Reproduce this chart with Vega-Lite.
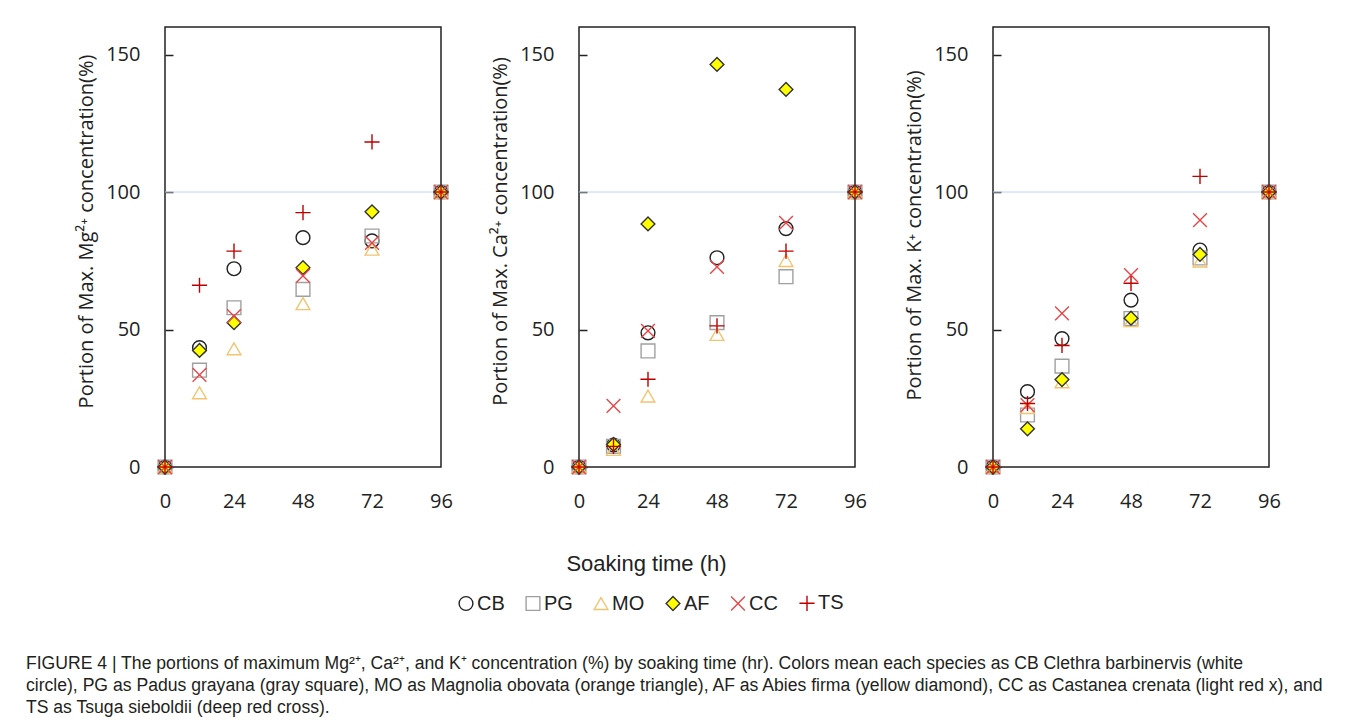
{
  "$schema": "https://vega.github.io/schema/vega-lite/v6.json",
  "background": "white",
  "autosize": {"type": "pad"},
  "padding": {"left": 25, "top": 26, "right": 10, "bottom": 10},
  "datasets": {
    "pts": [
      {"ion": "Mg", "t": 0, "sp": "CB", "v": 0}, {"ion": "Mg", "t": 0, "sp": "PG", "v": 0}, {"ion": "Mg", "t": 0, "sp": "MO", "v": 0}, {"ion": "Mg", "t": 0, "sp": "AF", "v": 0}, {"ion": "Mg", "t": 0, "sp": "CC", "v": 0}, {"ion": "Mg", "t": 0, "sp": "TS", "v": 0},
      {"ion": "Mg", "t": 12, "sp": "CB", "v": 43.4}, {"ion": "Mg", "t": 12, "sp": "PG", "v": 35.2}, {"ion": "Mg", "t": 12, "sp": "MO", "v": 27.0}, {"ion": "Mg", "t": 12, "sp": "AF", "v": 42.4}, {"ion": "Mg", "t": 12, "sp": "CC", "v": 33.5}, {"ion": "Mg", "t": 12, "sp": "TS", "v": 66.1},
      {"ion": "Mg", "t": 24, "sp": "CB", "v": 72.1}, {"ion": "Mg", "t": 24, "sp": "PG", "v": 57.9}, {"ion": "Mg", "t": 24, "sp": "MO", "v": 43.0}, {"ion": "Mg", "t": 24, "sp": "AF", "v": 52.5}, {"ion": "Mg", "t": 24, "sp": "CC", "v": 54.9}, {"ion": "Mg", "t": 24, "sp": "TS", "v": 78.5},
      {"ion": "Mg", "t": 48, "sp": "CB", "v": 83.4}, {"ion": "Mg", "t": 48, "sp": "PG", "v": 64.6}, {"ion": "Mg", "t": 48, "sp": "MO", "v": 59.4}, {"ion": "Mg", "t": 48, "sp": "AF", "v": 72.5}, {"ion": "Mg", "t": 48, "sp": "CC", "v": 69.5}, {"ion": "Mg", "t": 48, "sp": "TS", "v": 92.5},
      {"ion": "Mg", "t": 72, "sp": "CB", "v": 82.2}, {"ion": "Mg", "t": 72, "sp": "PG", "v": 84.0}, {"ion": "Mg", "t": 72, "sp": "MO", "v": 79.2}, {"ion": "Mg", "t": 72, "sp": "AF", "v": 92.8}, {"ion": "Mg", "t": 72, "sp": "CC", "v": 81.5}, {"ion": "Mg", "t": 72, "sp": "TS", "v": 118.2},
      {"ion": "Mg", "t": 96, "sp": "CB", "v": 100}, {"ion": "Mg", "t": 96, "sp": "PG", "v": 100}, {"ion": "Mg", "t": 96, "sp": "MO", "v": 100}, {"ion": "Mg", "t": 96, "sp": "AF", "v": 100}, {"ion": "Mg", "t": 96, "sp": "CC", "v": 100}, {"ion": "Mg", "t": 96, "sp": "TS", "v": 100},

      {"ion": "Ca", "t": 0, "sp": "CB", "v": 0}, {"ion": "Ca", "t": 0, "sp": "PG", "v": 0}, {"ion": "Ca", "t": 0, "sp": "MO", "v": 0}, {"ion": "Ca", "t": 0, "sp": "AF", "v": 0}, {"ion": "Ca", "t": 0, "sp": "CC", "v": 0}, {"ion": "Ca", "t": 0, "sp": "TS", "v": 0},
      {"ion": "Ca", "t": 12, "sp": "CB", "v": 8.0}, {"ion": "Ca", "t": 12, "sp": "PG", "v": 7.5}, {"ion": "Ca", "t": 12, "sp": "MO", "v": 6.4}, {"ion": "Ca", "t": 12, "sp": "AF", "v": 8.2}, {"ion": "Ca", "t": 12, "sp": "CC", "v": 22.2}, {"ion": "Ca", "t": 12, "sp": "TS", "v": 7.5},
      {"ion": "Ca", "t": 24, "sp": "CB", "v": 48.8}, {"ion": "Ca", "t": 24, "sp": "PG", "v": 42.2}, {"ion": "Ca", "t": 24, "sp": "MO", "v": 25.8}, {"ion": "Ca", "t": 24, "sp": "AF", "v": 88.4}, {"ion": "Ca", "t": 24, "sp": "CC", "v": 49.5}, {"ion": "Ca", "t": 24, "sp": "TS", "v": 31.9},
      {"ion": "Ca", "t": 48, "sp": "CB", "v": 76.1}, {"ion": "Ca", "t": 48, "sp": "PG", "v": 52.5}, {"ion": "Ca", "t": 48, "sp": "MO", "v": 48.2}, {"ion": "Ca", "t": 48, "sp": "AF", "v": 146.4}, {"ion": "Ca", "t": 48, "sp": "CC", "v": 72.8}, {"ion": "Ca", "t": 48, "sp": "TS", "v": 51.3},
      {"ion": "Ca", "t": 72, "sp": "CB", "v": 86.7}, {"ion": "Ca", "t": 72, "sp": "PG", "v": 69.2}, {"ion": "Ca", "t": 72, "sp": "MO", "v": 75.1}, {"ion": "Ca", "t": 72, "sp": "AF", "v": 137.3}, {"ion": "Ca", "t": 72, "sp": "CC", "v": 88.8}, {"ion": "Ca", "t": 72, "sp": "TS", "v": 78.5},
      {"ion": "Ca", "t": 96, "sp": "CB", "v": 100}, {"ion": "Ca", "t": 96, "sp": "PG", "v": 100}, {"ion": "Ca", "t": 96, "sp": "MO", "v": 100}, {"ion": "Ca", "t": 96, "sp": "AF", "v": 100}, {"ion": "Ca", "t": 96, "sp": "CC", "v": 100}, {"ion": "Ca", "t": 96, "sp": "TS", "v": 100},

      {"ion": "K", "t": 0, "sp": "CB", "v": 0}, {"ion": "K", "t": 0, "sp": "PG", "v": 0}, {"ion": "K", "t": 0, "sp": "MO", "v": 0}, {"ion": "K", "t": 0, "sp": "AF", "v": 0}, {"ion": "K", "t": 0, "sp": "CC", "v": 0}, {"ion": "K", "t": 0, "sp": "TS", "v": 0},
      {"ion": "K", "t": 12, "sp": "CB", "v": 27.4}, {"ion": "K", "t": 12, "sp": "PG", "v": 18.9}, {"ion": "K", "t": 12, "sp": "MO", "v": 21.6}, {"ion": "K", "t": 12, "sp": "AF", "v": 13.9}, {"ion": "K", "t": 12, "sp": "CC", "v": 22.5}, {"ion": "K", "t": 12, "sp": "TS", "v": 23.1},
      {"ion": "K", "t": 24, "sp": "CB", "v": 46.7}, {"ion": "K", "t": 24, "sp": "PG", "v": 36.7}, {"ion": "K", "t": 24, "sp": "MO", "v": 31.0}, {"ion": "K", "t": 24, "sp": "AF", "v": 31.8}, {"ion": "K", "t": 24, "sp": "CC", "v": 55.9}, {"ion": "K", "t": 24, "sp": "TS", "v": 44.2},
      {"ion": "K", "t": 48, "sp": "CB", "v": 60.7}, {"ion": "K", "t": 48, "sp": "PG", "v": 54.0}, {"ion": "K", "t": 48, "sp": "MO", "v": 53.2}, {"ion": "K", "t": 48, "sp": "AF", "v": 54.1}, {"ion": "K", "t": 48, "sp": "CC", "v": 69.8}, {"ion": "K", "t": 48, "sp": "TS", "v": 66.8},
      {"ion": "K", "t": 72, "sp": "CB", "v": 78.9}, {"ion": "K", "t": 72, "sp": "PG", "v": 76.0}, {"ion": "K", "t": 72, "sp": "MO", "v": 74.9}, {"ion": "K", "t": 72, "sp": "AF", "v": 77.3}, {"ion": "K", "t": 72, "sp": "CC", "v": 89.8}, {"ion": "K", "t": 72, "sp": "TS", "v": 105.7},
      {"ion": "K", "t": 96, "sp": "CB", "v": 100}, {"ion": "K", "t": 96, "sp": "PG", "v": 100}, {"ion": "K", "t": 96, "sp": "MO", "v": 100}, {"ion": "K", "t": 96, "sp": "AF", "v": 100}, {"ion": "K", "t": 96, "sp": "CC", "v": 100}, {"ion": "K", "t": 96, "sp": "TS", "v": 100}
    ]
  },
  "title": {
    "text": [
      "FIGURE 4 | The portions of maximum Mg²⁺, Ca²⁺, and K⁺ concentration (%) by soaking time (hr). Colors mean each species as CB Clethra barbinervis (white",
      "circle), PG as Padus grayana (gray square), MO as Magnolia obovata (orange triangle), AF as Abies firma (yellow diamond), CC as Castanea crenata (light red x), and",
      "TS as Tsuga sieboldii (deep red cross)."
    ],
    "orient": "bottom",
    "anchor": "start",
    "font": "Liberation Sans",
    "fontSize": 17.6,
    "fontWeight": "normal",
    "color": "#231f20",
    "lineHeight": 22,
    "dx": -50,
    "offset": 41
  },
  "spacing": 35,
  "hconcat": [
    {
      "width": 276, "height": 440,
      "layer": [
        {"data": {"values": [{"v": 100}]}, "mark": {"type": "rule", "color": "#bcd5ee", "strokeWidth": 1},
         "encoding": {"y": {"field": "v", "type": "quantitative", "scale": {"domain": [0, 160], "nice": false}}}},
        {"data": {"name": "pts"}, "transform": [{"filter": "datum.ion === 'Mg'"}],
         "mark": {"type": "point", "size": 190, "strokeWidth": 1.4, "opacity": 1},
         "encoding": {
           "x": {"field": "t", "type": "quantitative", "scale": {"domain": [0, 96], "nice": false}, "axis": {"values": [0, 24, 48, 72, 96], "title": null}},
           "y": {"field": "v", "type": "quantitative", "scale": {"domain": [0, 160], "nice": false}, "axis": {"values": [0, 50, 100, 150], "title": "Portion of Max. Mg²⁺ concentration(%)"}},
           "shape": {"field": "sp", "type": "nominal", "scale": {"domain": ["CB", "PG", "MO", "AF", "CC", "TS"], "range": ["circle", "square", "triangle-up", "diamond", "M-1,-1L1,1M-1,1L1,-1", "M-1.1,0L1.1,0M0,-1.1L0,1.1"]}, "legend": {"title": null}},
           "fill": {"field": "sp", "type": "nominal", "scale": {"domain": ["CB", "PG", "MO", "AF", "CC", "TS"], "range": ["transparent", "transparent", "transparent", "#ffff00", "transparent", "transparent"]}, "legend": {"title": null}},
           "stroke": {"field": "sp", "type": "nominal", "scale": {"domain": ["CB", "PG", "MO", "AF", "CC", "TS"], "range": ["#222222", "#a0a0a0", "#f2c46f", "#333333", "#e8474a", "#c00000"]}, "legend": {"title": null}}
         }}
      ]
    },
    {
      "width": 276, "height": 440,
      "layer": [
        {"data": {"values": [{"v": 100}]}, "mark": {"type": "rule", "color": "#bcd5ee", "strokeWidth": 1},
         "encoding": {"y": {"field": "v", "type": "quantitative", "scale": {"domain": [0, 160], "nice": false}}}},
        {"data": {"name": "pts"}, "transform": [{"filter": "datum.ion === 'Ca'"}],
         "mark": {"type": "point", "size": 190, "strokeWidth": 1.4, "opacity": 1},
         "encoding": {
           "x": {"field": "t", "type": "quantitative", "scale": {"domain": [0, 96], "nice": false}, "axis": {"values": [0, 24, 48, 72, 96], "title": "Soaking time (h)", "titleX": 67, "titleFont": "Liberation Sans", "titleFontSize": 22, "titleFontWeight": "normal", "titlePadding": 42}},
           "y": {"field": "v", "type": "quantitative", "scale": {"domain": [0, 160], "nice": false}, "axis": {"values": [0, 50, 100, 150], "title": "Portion of Max. Ca²⁺ concentration(%)"}},
           "shape": {"field": "sp", "type": "nominal", "scale": {"domain": ["CB", "PG", "MO", "AF", "CC", "TS"], "range": ["circle", "square", "triangle-up", "diamond", "M-1,-1L1,1M-1,1L1,-1", "M-1.1,0L1.1,0M0,-1.1L0,1.1"]}, "legend": {"title": null}},
           "fill": {"field": "sp", "type": "nominal", "scale": {"domain": ["CB", "PG", "MO", "AF", "CC", "TS"], "range": ["transparent", "transparent", "transparent", "#ffff00", "transparent", "transparent"]}, "legend": {"title": null}},
           "stroke": {"field": "sp", "type": "nominal", "scale": {"domain": ["CB", "PG", "MO", "AF", "CC", "TS"], "range": ["#222222", "#a0a0a0", "#f2c46f", "#333333", "#e8474a", "#c00000"]}, "legend": {"title": null}}
         }}
      ]
    },
    {
      "width": 276, "height": 440,
      "layer": [
        {"data": {"values": [{"v": 100}]}, "mark": {"type": "rule", "color": "#bcd5ee", "strokeWidth": 1},
         "encoding": {"y": {"field": "v", "type": "quantitative", "scale": {"domain": [0, 160], "nice": false}}}},
        {"data": {"name": "pts"}, "transform": [{"filter": "datum.ion === 'K'"}],
         "mark": {"type": "point", "size": 190, "strokeWidth": 1.4, "opacity": 1},
         "encoding": {
           "x": {"field": "t", "type": "quantitative", "scale": {"domain": [0, 96], "nice": false}, "axis": {"values": [0, 24, 48, 72, 96], "title": null}},
           "y": {"field": "v", "type": "quantitative", "scale": {"domain": [0, 160], "nice": false}, "axis": {"values": [0, 50, 100, 150], "title": "Portion of Max. K⁺ concentration(%)", "titleY": 208}},
           "shape": {"field": "sp", "type": "nominal", "scale": {"domain": ["CB", "PG", "MO", "AF", "CC", "TS"], "range": ["circle", "square", "triangle-up", "diamond", "M-1,-1L1,1M-1,1L1,-1", "M-1.1,0L1.1,0M0,-1.1L0,1.1"]}, "legend": {"title": null}},
           "fill": {"field": "sp", "type": "nominal", "scale": {"domain": ["CB", "PG", "MO", "AF", "CC", "TS"], "range": ["transparent", "transparent", "transparent", "#ffff00", "transparent", "transparent"]}, "legend": {"title": null}},
           "stroke": {"field": "sp", "type": "nominal", "scale": {"domain": ["CB", "PG", "MO", "AF", "CC", "TS"], "range": ["#222222", "#a0a0a0", "#f2c46f", "#333333", "#e8474a", "#c00000"]}, "legend": {"title": null}}
         }}
      ]
    }
  ],
  "config": {
    "view": {"stroke": "#222222", "strokeWidth": 1.5},
    "axis": {
      "grid": false,
      "domain": false,
      "labelFont": "Open Sans",
      "labelFontSize": 20,
      "labelColor": "#222222",
      "labelFlush": false,
      "labelOverlap": false,
      "titleFont": "Open Sans",
      "titleFontSize": 20,
      "titleFontWeight": "normal",
      "titleColor": "#222222"
    },
    "axisX": {"ticks": false, "labelPadding": 24},
    "axisY": {"ticks": true, "tickSize": -8, "tickColor": "#222222", "tickWidth": 1.5, "labelPadding": 33, "titlePadding": 9, "titleY": 204},
    "legend": {
      "orient": "none",
      "legendX": 291,
      "legendY": 566,
      "direction": "horizontal",
      "columns": 6,
      "symbolSize": 190,
      "symbolStrokeWidth": 1.4,
      "labelFont": "Liberation Sans",
      "labelFontSize": 20,
      "labelColor": "#222222",
      "labelOffset": 1,
      "columnPadding": 18
    }
  }
}
